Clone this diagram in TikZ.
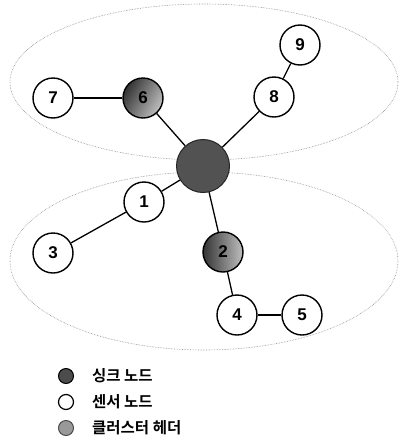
\documentclass[tikz,border=0pt]{standalone}
\usepackage{fontspec}
\setmainfont{Liberation Sans}
\newfontfamily\kor{Noto Sans CJK KR}[BoldFont={Noto Sans CJK KR Bold}]
\begin{document}
\begin{tikzpicture}[x=1pt,y=-1pt,
  sensor/.style={circle,draw=black,line width=1.4pt,fill=white,minimum size=40pt,inner sep=0pt,font=\bfseries\fontsize{17}{17}\selectfont},
  header/.style={sensor,left color=black!80,right color=black!25,shading angle=60},
  sinknode/.style={circle,draw=black!85,line width=1pt,fill=black!68,minimum size=53pt,inner sep=0pt},
  link/.style={line width=1.3pt,black},
  zone/.style={draw=black!45,densely dotted,line width=0.6pt},
  legtext/.style={anchor=west,font=\kor\bfseries\fontsize{15.5}{15.5}\selectfont,inner sep=0pt}]
\useasboundingbox (0,0) rectangle (399,445);
\draw[zone] (204,82) ellipse [x radius=194, y radius=78];
\draw[zone] (204,261) ellipse [x radius=194, y radius=89];
\node[sinknode] (s) at (203,166) {};
\node[header] (n6) at (143,98) {6};
\node[sensor] (n7) at (53,98) {7};
\node[sensor] (n8) at (274,97) {8};
\node[sensor] (n9) at (300,45) {9};
\node[sensor] (n1) at (144,202) {1};
\node[sensor] (n3) at (53,253) {3};
\node[header,shading angle=90] (n2) at (223,252) {2};
\node[sensor] (n4) at (237,315) {4};
\node[sensor] (n5) at (302,315) {5};
\draw[link] (n7) -- (n6);
\draw[link] (n6) -- (s);
\draw[link] (n8) -- (s);
\draw[link] (n8) -- (n9);
\draw[link] (s) -- (n1);
\draw[link] (n1) -- (n3);
\draw[link] (s) -- (n2);
\draw[link] (n2) -- (n4);
\draw[link] (n4) -- (n5);
\node[circle,draw=black,line width=1pt,fill=black!70,minimum size=15pt,inner sep=0pt] (l1) at (66,376) {};
\node[circle,draw=black,line width=1.2pt,fill=white,minimum size=15pt,inner sep=0pt] (l2) at (66,402) {};
\node[circle,draw=black!70,line width=1pt,fill=black!40,minimum size=15pt,inner sep=0pt] (l3) at (66,428) {};
\node[legtext] (t1) at (92,376) {싱크 노드};
\node[legtext] (t2) at (92,402) {센서 노드};
\node[legtext] (t3) at (92,428) {클러스터 헤더};
\end{tikzpicture}
\end{document}
